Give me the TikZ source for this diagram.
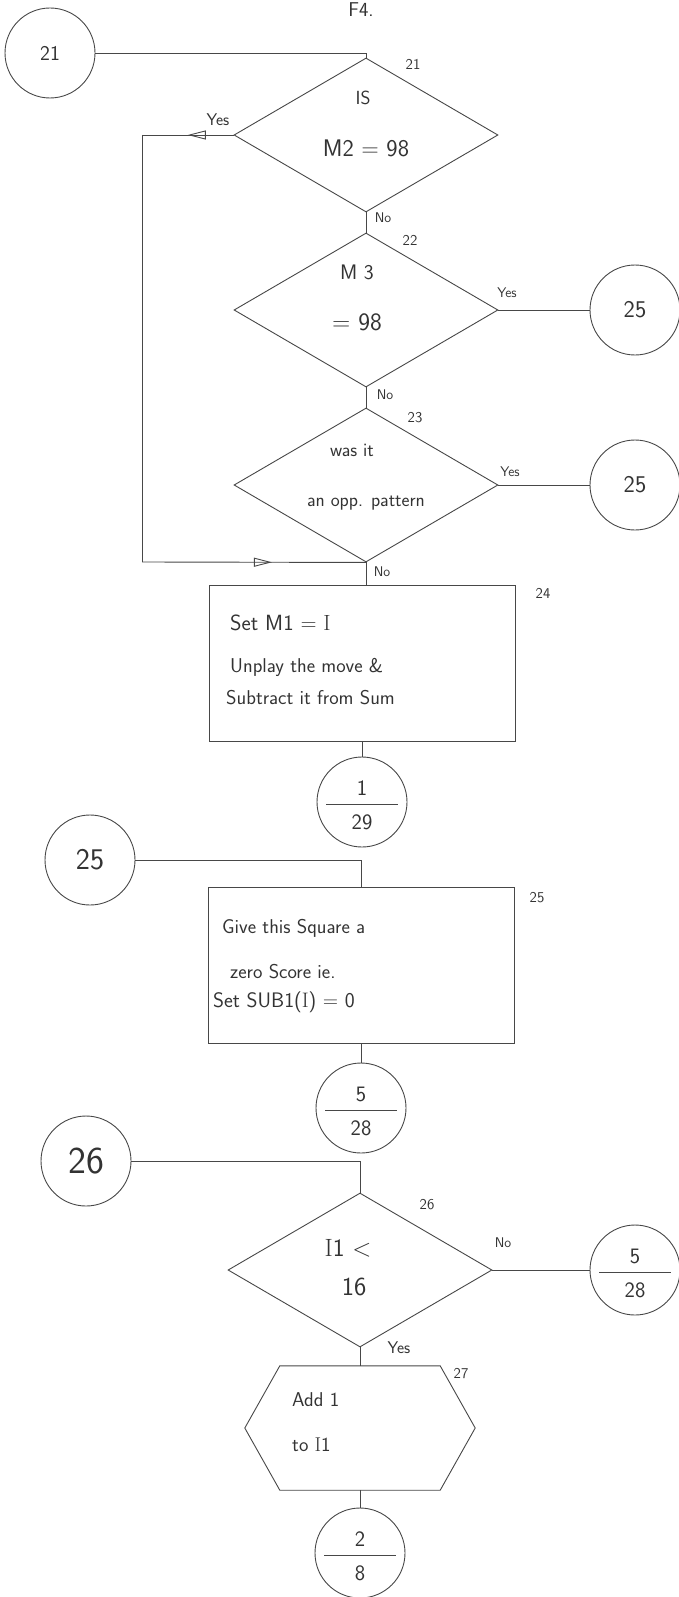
\documentclass[tikz,border=0pt]{standalone}
\usepackage{fontspec}
\usetikzlibrary{arrows.meta, shapes.geometric, calc, decorations.markings}

\newcommand{\fsz}[1]{\fontsize{#1}{#1}\selectfont}
\newcommand{\serI}{{\rmfamily I}}

\tikzset{
  ink/.style={draw=black!72, line width=0.9pt},
  decision/.style={ink, diamond, minimum width=264pt, minimum height=154pt, inner sep=0pt},
  stepbox/.style={ink, rectangle, minimum width=306pt, minimum height=156pt, inner sep=0pt},
  conn/.style={ink, circle, minimum size=90pt, inner sep=0pt, text=black!80, font=\sffamily\fsz{24}},
  prepbox/.style={rectangle, minimum width=230pt, minimum height=124pt, inner sep=0pt},
  txt/.style={text=black!80, font=\sffamily\fsz{22}, inner sep=0pt},
  lbl/.style={text=black!80, font=\sffamily\fsz{15}, inner sep=0pt},
  ans/.style={text=black!80, font=\sffamily\fsz{17}, inner sep=0pt},
  midarrow/.style={postaction={decorate}, decoration={markings,
    mark=at position #1 with {\arrow{Triangle[open, length=18pt, width=9pt]}}}}
}

\begin{document}
\begin{tikzpicture}[x=1pt, y=-1pt]
  \useasboundingbox (0,0) rectangle (679,1597);
  \node[txt, font=\sffamily\fsz{20}, anchor=base] (title) at (361,17) {F4.};

  % first chain of tests
  \node[conn, font=\sffamily\fsz{21}] (c21) at (50,53) {21};
  \node[decision] (d21) at (366,135) {};
  \node[decision] (d22) at (366,310) {};
  \node[decision] (d23) at (366,485) {};
  \node[conn] (c25a) at (635,310) {25};
  \node[conn] (c25b) at (635,485) {25};
  \node[stepbox] (s24) at (362,663) {};

  \node[txt, font=\sffamily\fsz{19}] (t21a) at ($(d21)+(-3,-37)$) {IS};
  \node[txt, font=\sffamily\fsz{24}] (t21b) at ($(d21)+(0,13)$) {M2 = 98};
  \node[txt, font=\sffamily\fsz{21}] (t22a) at ($(d22)+(-9,-38)$) {M 3};
  \node[txt, font=\sffamily\fsz{25}] (t22b) at ($(d22)+(-9,12)$) {= 98};
  \node[txt, font=\sffamily\fsz{19}] (t23a) at ($(d23)+(-14,-35)$) {was it};
  \node[txt, font=\sffamily\fsz{19}] (t23b) at ($(d23)+(0,18)$) {an opp. pattern};

  \node[lbl] (n21) at (413,64) {21};
  \node[lbl] (n22) at (410,240) {22};
  \node[lbl] (n23) at (415,418) {23};
  \node[lbl] (n24) at (543,593) {24};
  \node[ans] (y21) at (218,120) {Yes};
  \node[ans, font=\sffamily\fsz{14}] (no21) at (383,218) {No};
  \node[ans, font=\sffamily\fsz{14}] (y22) at (507,293) {Yes};
  \node[ans, font=\sffamily\fsz{14}] (no22) at (385,395) {No};
  \node[ans, font=\sffamily\fsz{14}] (y23) at (510,472) {Yes};
  \node[ans, font=\sffamily\fsz{14}] (no23) at (382,572) {No};

  \node[txt, anchor=west] (t24a) at (230,623) {Set M1 = \serI};
  \node[txt, anchor=west, font=\sffamily\fsz{20}] (t24b) at (230,667) {Unplay the move \&};
  \node[txt, anchor=west, font=\sffamily\fsz{20}] (t24c) at (226,698) {Subtract it from Sum};

  \coordinate (loopA) at (142,135);
  \coordinate (loopB) at (142,562);
  \draw[ink] (c21.east) -| (d21.north);
  \draw[ink] (d21.south) -- (d22.north);
  \draw[ink] (d22.south) -- (d23.north);
  \draw[ink] (d22.east) -- (c25a.west);
  \draw[ink] (d23.east) -- (c25b.west);
  \draw[ink, midarrow=0.5] (d21.west) -- (loopA);
  \draw[ink] (loopA) -- (loopB);
  \draw[ink, midarrow=0.58] (loopB) -- (d23.south);
  \draw[ink] (d23.south) -- (d23.south |- s24.north);

  % fraction connectors
  \foreach \nm/\cx/\cy/\num/\den in {c129/362/802/1/29, c528/361/1108/5/28,
                                     c528r/635/1270/5/28, c28/360/1553/2/8} {
    \node[conn] (\nm) at (\cx,\cy) {};
    \draw[ink] ($(\nm.center)+(-36,2)$) -- ($(\nm.center)+(36,2)$);
    \node[txt] at ($(\nm.center)+(0,-14)$) {\num};
    \node[txt] at ($(\nm.center)+(0,20)$) {\den};
  }
  \draw[ink] (s24.south) -- (c129.north);

  % zero score
  \node[conn, font=\sffamily\fsz{30}] (c25l) at (90,860) {25};
  \node[stepbox] (s25) at (361,965) {};
  \node[lbl] (n25) at (537,898) {25};
  \node[txt, anchor=west, font=\sffamily\fsz{20}] (t25a) at (222,928) {Give this Square a};
  \node[txt, anchor=west, font=\sffamily\fsz{20}] (t25b) at (230,972) {zero Score ie.};
  \node[txt, anchor=west, font=\sffamily\fsz{21}] (t25c) at (213,1002) {Set SUB1(\serI) = 0};
  \draw[ink] (c25l.east) -| (s25.north);
  \draw[ink] (s25.south) -- (c528.north);

  % loop count
  \node[conn, font=\sffamily\fsz{38}] (c26) at (86,1161) {26};
  \node[decision] (d26) at (360,1270) {};
  \node[prepbox] (h27) at (360,1428) {};
  \draw[ink] (h27.west) -- ($(h27.north west)+(35,0)$) -- ($(h27.north east)+(-35,0)$)
    -- (h27.east) -- ($(h27.south east)+(-35,0)$) -- ($(h27.south west)+(35,0)$) -- cycle;
  \node[txt, font=\sffamily\fsz{25}] (t26a) at ($(d26)+(-12,-22)$) {\serI1 <};
  \node[txt, font=\sffamily\fsz{26}] (t26b) at ($(d26)+(-6,17)$) {16};
  \node[lbl] (n26) at (427,1205) {26};
  \node[lbl] (n27) at (461,1373) {27};
  \node[ans, font=\sffamily\fsz{14}] (no26) at (503,1243) {No};
  \node[ans] (y26) at (399,1348) {Yes};
  \node[txt, anchor=west, font=\sffamily\fsz{20}] (t27a) at (292,1400) {Add 1};
  \node[txt, anchor=west, font=\sffamily\fsz{20}] (t27b) at (292,1445) {to \serI1};
  \draw[ink] (c26.east) -| (d26.north);
  \draw[ink] (d26.east) -- (c528r.west);
  \draw[ink] (d26.south) -- (h27.north);
  \draw[ink] (h27.south) -- (c28.north);
\end{tikzpicture}
\end{document}
